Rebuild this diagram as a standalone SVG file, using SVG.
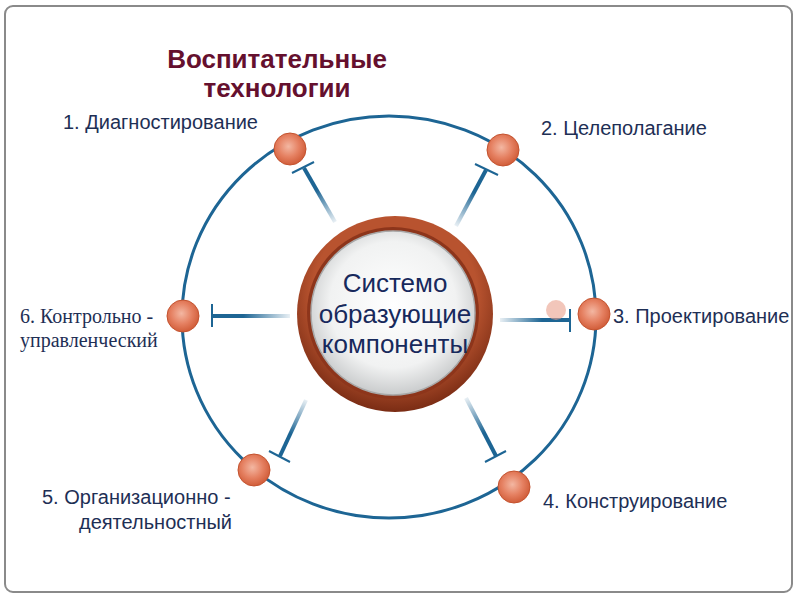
<svg xmlns="http://www.w3.org/2000/svg" width="800" height="600" viewBox="0 0 800 600">
<defs>
<radialGradient id="ball" cx="0.45" cy="0.42" r="0.6">
<stop offset="0" stop-color="#f3b7a2"/>
<stop offset="0.55" stop-color="#e58061"/>
<stop offset="1" stop-color="#cf5a36"/>
</radialGradient>
<radialGradient id="ring" cx="0.5" cy="0.4" r="0.6">
<stop offset="0.7" stop-color="#b8532f"/>
<stop offset="1" stop-color="#7a2c14"/>
</radialGradient>
<radialGradient id="face" cx="0.5" cy="0.45" r="0.55">
<stop offset="0" stop-color="#ffffff"/>
<stop offset="0.7" stop-color="#f1f2f2"/>
<stop offset="1" stop-color="#c9cbcc"/>
</radialGradient>
<linearGradient id="sp1" gradientUnits="userSpaceOnUse" x1="335" y1="222" x2="304" y2="168"><stop offset="0" stop-color="#1d6594" stop-opacity="0.1"/><stop offset="0.6" stop-color="#1d6594"/></linearGradient>
<linearGradient id="sp2" gradientUnits="userSpaceOnUse" x1="456" y1="226" x2="486" y2="170"><stop offset="0" stop-color="#1d6594" stop-opacity="0.1"/><stop offset="0.6" stop-color="#1d6594"/></linearGradient>
<linearGradient id="sp3" gradientUnits="userSpaceOnUse" x1="500" y1="320" x2="570" y2="320"><stop offset="0" stop-color="#1d6594" stop-opacity="0.1"/><stop offset="0.6" stop-color="#1d6594"/></linearGradient>
<linearGradient id="sp4" gradientUnits="userSpaceOnUse" x1="466" y1="398" x2="496" y2="456"><stop offset="0" stop-color="#1d6594" stop-opacity="0.1"/><stop offset="0.6" stop-color="#1d6594"/></linearGradient>
<linearGradient id="sp5" gradientUnits="userSpaceOnUse" x1="306" y1="400" x2="280" y2="456"><stop offset="0" stop-color="#1d6594" stop-opacity="0.1"/><stop offset="0.6" stop-color="#1d6594"/></linearGradient>
<linearGradient id="sp6" gradientUnits="userSpaceOnUse" x1="290" y1="316" x2="212" y2="316"><stop offset="0" stop-color="#1d6594" stop-opacity="0.1"/><stop offset="0.6" stop-color="#1d6594"/></linearGradient>
</defs>
<style>
.node circle{fill:url(#ball);stroke:#c4532f;stroke-width:1}
.spoke{stroke-width:4;fill:none}
.bar{stroke:#1d6594;stroke-width:2;fill:none}
.lbl{font-family:"Liberation Sans",Arial,sans-serif;font-size:20px;fill:#1e2f55}
.ser{font-family:"Liberation Serif","Times New Roman",serif;font-size:20px;fill:#1e2f55}
.ttl{font-family:"Liberation Sans",Arial,sans-serif;font-size:26px;font-weight:bold;fill:#65102e;text-anchor:middle}
.ctr{font-family:"Liberation Sans",Arial,sans-serif;font-size:26px;fill:#17295c;text-anchor:middle}
</style>
<rect x="5" y="6" width="787" height="586" rx="8" fill="#ffffff" stroke="#8a8a8a" stroke-width="2"/>
<g id="title">
<text class="ttl" x="277" y="68">Воспитательные</text>
<text class="ttl" x="277" y="97">технологии</text>
</g>
<ellipse id="orbit" cx="389" cy="317" rx="207" ry="201" fill="none" stroke="#1d6594" stroke-width="3"/>
<g id="connectors">
<line class="spoke" x1="335" y1="222" x2="304" y2="168" stroke="url(#sp1)"/>
<line class="bar" x1="292" y1="173" x2="314" y2="162"/>
<line class="spoke" x1="456" y1="226" x2="486" y2="170" stroke="url(#sp2)"/>
<line class="bar" x1="475" y1="164" x2="498" y2="175"/>
<line class="spoke" x1="500" y1="320" x2="570" y2="320" stroke="url(#sp3)"/>
<line class="bar" x1="570" y1="309" x2="570" y2="332"/>
<line class="spoke" x1="466" y1="398" x2="496" y2="456" stroke="url(#sp4)"/>
<line class="bar" x1="485" y1="462" x2="506" y2="451"/>
<line class="spoke" x1="306" y1="400" x2="280" y2="456" stroke="url(#sp5)"/>
<line class="bar" x1="269" y1="451" x2="290" y2="462"/>
<line class="spoke" x1="290" y1="316" x2="212" y2="316" stroke="url(#sp6)"/>
<line class="bar" x1="212" y1="304" x2="212" y2="327"/>
</g>
<g id="center">
<circle cx="395" cy="314" r="98" fill="url(#ring)"/>
<circle cx="393" cy="313" r="86" fill="#8d351b"/>
<circle cx="393" cy="313" r="82" fill="url(#face)" stroke="#a8a8a8" stroke-width="1.5"/>
<text class="ctr" x="395" y="292">Системо</text>
<text class="ctr" x="395" y="323">образующие</text>
<text class="ctr" x="395" y="353">компоненты</text>
</g>
<circle cx="556" cy="310" r="10" fill="#e9a08c" opacity="0.6"/>
<g id="n1" class="node"><circle cx="290" cy="149" r="16"/><text class="lbl" x="63" y="129">1. Диагностирование</text></g>
<g id="n2" class="node"><circle cx="503" cy="150" r="16"/><text class="lbl" x="541" y="135">2. Целеполагание</text></g>
<g id="n3" class="node"><circle cx="594" cy="314" r="16"/><text class="lbl" x="613" y="323">3. Проектирование</text></g>
<g id="n4" class="node"><circle cx="514" cy="487" r="16"/><text class="lbl" x="543" y="508">4. Конструирование</text></g>
<g id="n5" class="node"><circle cx="254" cy="470" r="16"/><text class="lbl" x="42" y="504">5. Организационно -</text><text class="lbl" x="79" y="529">деятельностный</text></g>
<g id="n6" class="node"><circle cx="183" cy="316" r="16"/><text class="ser" x="20" y="323">6. Контрольно -</text><text class="ser" x="20" y="347">управленческий</text></g>
</svg>
